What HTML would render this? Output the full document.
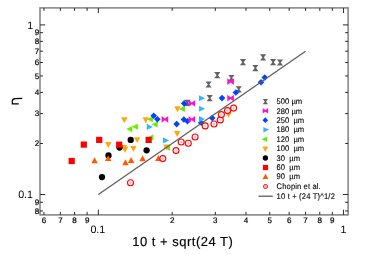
<!DOCTYPE html><html><head><meta charset="utf-8"><style>html,body{margin:0;padding:0;background:#fff;width:374px;height:255px;overflow:hidden}</style></head><body><svg width="374" height="255" viewBox="0 0 374 255" style="position:absolute;left:0;top:0;will-change:transform;text-rendering:geometricPrecision;font-family:'Liberation Sans',sans-serif">
<rect x="0" y="0" width="374" height="255" fill="#fff"/>
<polygon points="214.20,72.10 220.40,72.10 218.00,75.20 220.40,78.30 214.20,78.30 216.60,75.20" fill="#626262"/>
<polygon points="205.50,81.40 211.70,81.40 209.30,84.50 211.70,87.60 205.50,87.60 207.90,84.50" fill="#626262"/>
<polygon points="228.30,74.90 234.50,74.90 232.10,78.00 234.50,81.10 228.30,81.10 230.70,78.00" fill="#626262"/>
<polygon points="206.60,95.10 212.80,95.10 210.40,98.20 212.80,101.30 206.60,101.30 209.00,98.20" fill="#626262"/>
<polygon points="235.60,86.20 241.80,86.20 239.40,89.30 241.80,92.40 235.60,92.40 238.00,89.30" fill="#626262"/>
<polygon points="184.30,99.70 190.50,99.70 188.10,102.80 190.50,105.90 184.30,105.90 186.70,102.80" fill="#626262"/>
<polygon points="239.90,59.10 246.10,59.10 243.70,62.20 246.10,65.30 239.90,65.30 242.30,62.20" fill="#626262"/>
<polygon points="252.30,65.00 258.50,65.00 256.10,68.10 258.50,71.20 252.30,71.20 254.70,68.10" fill="#626262"/>
<polygon points="260.00,54.30 266.20,54.30 263.80,57.40 266.20,60.50 260.00,60.50 262.40,57.40" fill="#626262"/>
<polygon points="270.00,59.10 276.20,59.10 273.80,62.20 276.20,65.30 270.00,65.30 272.40,62.20" fill="#626262"/>
<polygon points="276.90,59.40 283.10,59.40 280.70,62.50 283.10,65.60 276.90,65.60 279.30,62.50" fill="#626262"/>
<polygon points="132.35,126.05 132.35,132.15 126.25,129.10" fill="#66ee00"/>
<polygon points="137.85,123.75 137.85,129.85 131.75,126.80" fill="#66ee00"/>
<polygon points="152.95,116.25 152.95,122.35 146.85,119.30" fill="#66ee00"/>
<polygon points="157.75,121.35 157.75,127.45 151.65,124.40" fill="#66ee00"/>
<polygon points="184.95,105.85 184.95,111.95 178.85,108.90" fill="#66ee00"/>
<polygon points="153.35,134.45 153.35,140.55 147.25,137.50" fill="#66ee00"/>
<polygon points="170.05,144.65 170.05,150.75 163.95,147.70" fill="#66ee00"/>
<polygon points="150.40,115.80 153.70,112.50 157.00,115.80 153.70,119.10" fill="#0044ff"/>
<polygon points="154.10,119.30 157.40,116.00 160.70,119.30 157.40,122.60" fill="#0044ff"/>
<polygon points="173.35,124.10 176.65,120.80 179.95,124.10 176.65,127.40" fill="#0044ff"/>
<polygon points="180.90,103.40 184.20,100.10 187.50,103.40 184.20,106.70" fill="#0044ff"/>
<polygon points="180.60,119.50 183.90,116.20 187.20,119.50 183.90,122.80" fill="#0044ff"/>
<polygon points="184.20,121.20 187.50,117.90 190.80,121.20 187.50,124.50" fill="#0044ff"/>
<polygon points="208.90,118.00 212.20,114.70 215.50,118.00 212.20,121.30" fill="#0044ff"/>
<polygon points="218.70,98.10 222.00,94.80 225.30,98.10 222.00,101.40" fill="#0044ff"/>
<polygon points="232.60,92.50 235.90,89.20 239.20,92.50 235.90,95.80" fill="#0044ff"/>
<polygon points="261.50,77.50 264.80,74.20 268.10,77.50 264.80,80.80" fill="#0044ff"/>
<polygon points="257.70,82.20 261.00,78.90 264.30,82.20 261.00,85.50" fill="#0044ff"/>
<polygon points="197.90,122.80 201.20,119.50 204.50,122.80 201.20,126.10" fill="#0044ff"/>
<polygon points="161.60,116.03 161.60,122.77 164.90,120.20 168.20,122.77 168.20,116.03 164.90,118.60" fill="#ff10cc"/>
<polygon points="188.55,100.03 188.55,106.77 191.85,104.20 195.15,106.77 195.15,100.03 191.85,102.60" fill="#ff10cc"/>
<polygon points="188.55,116.03 188.55,122.77 191.85,120.20 195.15,122.77 195.15,116.03 191.85,118.60" fill="#ff10cc"/>
<polygon points="227.30,78.23 227.30,84.97 230.60,82.40 233.90,84.97 233.90,78.23 230.60,80.80" fill="#ff10cc"/>
<polygon points="227.30,94.73 227.30,101.47 230.60,98.90 233.90,101.47 233.90,94.73 230.60,97.30" fill="#ff10cc"/>
<polygon points="146.75,123.85 146.75,129.95 152.85,126.90" fill="#38b4ff"/>
<polygon points="162.95,137.35 162.95,143.45 169.05,140.40" fill="#38b4ff"/>
<polygon points="198.95,95.25 198.95,101.35 205.05,98.30" fill="#38b4ff"/>
<polygon points="199.05,105.75 199.05,111.85 205.15,108.80" fill="#38b4ff"/>
<polygon points="198.95,116.05 198.95,122.15 205.05,119.10" fill="#38b4ff"/>
<polygon points="121.05,117.34 127.55,117.34 124.30,123.26" fill="#ffa60c"/>
<polygon points="142.45,117.24 148.95,117.24 145.70,123.16" fill="#ffa60c"/>
<polygon points="174.25,106.34 180.75,106.34 177.50,112.26" fill="#ffa60c"/>
<polygon points="173.95,131.04 180.45,131.04 177.20,136.96" fill="#ffa60c"/>
<polygon points="133.85,137.14 140.35,137.14 137.10,143.06" fill="#ffa60c"/>
<polygon points="105.05,142.04 111.55,142.04 108.30,147.96" fill="#ffa60c"/>
<polygon points="120.65,144.94 127.15,144.94 123.90,150.86" fill="#ffa60c"/>
<polygon points="121.75,146.94 128.25,146.94 125.00,152.86" fill="#ffa60c"/>
<polygon points="130.15,145.94 136.65,145.94 133.40,151.86" fill="#ffa60c"/>
<polygon points="163.25,144.54 169.75,144.54 166.50,150.46" fill="#ffa60c"/>
<polygon points="225.45,111.84 231.95,111.84 228.70,117.76" fill="#ffa60c"/>
<circle cx="130.70" cy="139.90" r="3.15" fill="#000"/>
<circle cx="119.50" cy="147.50" r="3.15" fill="#000"/>
<circle cx="108.50" cy="155.40" r="3.15" fill="#000"/>
<circle cx="146.60" cy="150.30" r="3.15" fill="#000"/>
<circle cx="102.00" cy="177.10" r="3.15" fill="#000"/>
<rect x="96.10" y="136.80" width="6.20" height="6.20" fill="#ff0000"/>
<rect x="80.70" y="141.50" width="6.20" height="6.20" fill="#ff0000"/>
<rect x="116.10" y="141.60" width="6.20" height="6.20" fill="#ff0000"/>
<rect x="145.55" y="136.80" width="6.20" height="6.20" fill="#ff0000"/>
<rect x="68.60" y="157.90" width="6.20" height="6.20" fill="#ff0000"/>
<polygon points="91.35,163.16 97.85,163.16 94.60,157.24" fill="#ff5a00"/>
<polygon points="104.95,161.06 111.45,161.06 108.20,155.14" fill="#ff5a00"/>
<polygon points="122.25,165.26 128.75,165.26 125.50,159.34" fill="#ff5a00"/>
<polygon points="127.85,162.96 134.35,162.96 131.10,157.04" fill="#ff5a00"/>
<polygon points="139.35,161.16 145.85,161.16 142.60,155.24" fill="#ff5a00"/>
<polygon points="155.15,160.96 161.65,160.96 158.40,155.04" fill="#ff5a00"/>
<circle cx="130.50" cy="182.70" r="3.00" fill="#fff" stroke="#ff0000" stroke-width="1.10"/>
<circle cx="130.50" cy="182.70" r="0.7" fill="none" stroke="#ff4a4a" stroke-width="0.45"/>
<circle cx="162.80" cy="158.60" r="3.00" fill="#fff" stroke="#ff0000" stroke-width="1.10"/>
<circle cx="162.80" cy="158.60" r="0.7" fill="none" stroke="#ff4a4a" stroke-width="0.45"/>
<circle cx="176.00" cy="150.60" r="3.00" fill="#fff" stroke="#ff0000" stroke-width="1.10"/>
<circle cx="176.00" cy="150.60" r="0.7" fill="none" stroke="#ff4a4a" stroke-width="0.45"/>
<circle cx="181.20" cy="142.00" r="3.00" fill="#fff" stroke="#ff0000" stroke-width="1.10"/>
<circle cx="181.20" cy="142.00" r="0.7" fill="none" stroke="#ff4a4a" stroke-width="0.45"/>
<circle cx="188.30" cy="143.20" r="3.00" fill="#fff" stroke="#ff0000" stroke-width="1.10"/>
<circle cx="188.30" cy="143.20" r="0.7" fill="none" stroke="#ff4a4a" stroke-width="0.45"/>
<circle cx="195.10" cy="137.00" r="3.00" fill="#fff" stroke="#ff0000" stroke-width="1.10"/>
<circle cx="195.10" cy="137.00" r="0.7" fill="none" stroke="#ff4a4a" stroke-width="0.45"/>
<circle cx="205.20" cy="125.90" r="3.00" fill="#fff" stroke="#ff0000" stroke-width="1.10"/>
<circle cx="205.20" cy="125.90" r="0.7" fill="none" stroke="#ff4a4a" stroke-width="0.45"/>
<circle cx="214.00" cy="124.00" r="3.00" fill="#fff" stroke="#ff0000" stroke-width="1.10"/>
<circle cx="214.00" cy="124.00" r="0.7" fill="none" stroke="#ff4a4a" stroke-width="0.45"/>
<circle cx="220.30" cy="119.90" r="3.00" fill="#fff" stroke="#ff0000" stroke-width="1.10"/>
<circle cx="220.30" cy="119.90" r="0.7" fill="none" stroke="#ff4a4a" stroke-width="0.45"/>
<circle cx="221.40" cy="114.60" r="3.00" fill="#fff" stroke="#ff0000" stroke-width="1.10"/>
<circle cx="221.40" cy="114.60" r="0.7" fill="none" stroke="#ff4a4a" stroke-width="0.45"/>
<circle cx="227.50" cy="110.60" r="3.00" fill="#fff" stroke="#ff0000" stroke-width="1.10"/>
<circle cx="227.50" cy="110.60" r="0.7" fill="none" stroke="#ff4a4a" stroke-width="0.45"/>
<circle cx="233.60" cy="108.10" r="3.00" fill="#fff" stroke="#ff0000" stroke-width="1.10"/>
<circle cx="233.60" cy="108.10" r="0.7" fill="none" stroke="#ff4a4a" stroke-width="0.45"/>
<line x1="98.35" y1="194.50" x2="305.57" y2="51.17" stroke="#5e5e5e" stroke-width="1.3"/>
<rect x="40.00" y="7.90" width="308.10" height="207.00" fill="none" stroke="#7c7c7c" stroke-width="1.45"/>
<line x1="43.95" y1="214.90" x2="43.95" y2="211.90" stroke="#2a2a2a" stroke-width="1.00"/>
<line x1="43.95" y1="7.90" x2="43.95" y2="10.90" stroke="#2a2a2a" stroke-width="1.00"/>
<line x1="60.37" y1="214.90" x2="60.37" y2="211.90" stroke="#2a2a2a" stroke-width="1.00"/>
<line x1="60.37" y1="7.90" x2="60.37" y2="10.90" stroke="#2a2a2a" stroke-width="1.00"/>
<line x1="74.59" y1="214.90" x2="74.59" y2="211.90" stroke="#2a2a2a" stroke-width="1.00"/>
<line x1="74.59" y1="7.90" x2="74.59" y2="10.90" stroke="#2a2a2a" stroke-width="1.00"/>
<line x1="87.13" y1="214.90" x2="87.13" y2="211.90" stroke="#2a2a2a" stroke-width="1.00"/>
<line x1="87.13" y1="7.90" x2="87.13" y2="10.90" stroke="#2a2a2a" stroke-width="1.00"/>
<line x1="172.16" y1="214.90" x2="172.16" y2="211.90" stroke="#2a2a2a" stroke-width="1.00"/>
<line x1="172.16" y1="7.90" x2="172.16" y2="10.90" stroke="#2a2a2a" stroke-width="1.00"/>
<line x1="215.34" y1="214.90" x2="215.34" y2="211.90" stroke="#2a2a2a" stroke-width="1.00"/>
<line x1="215.34" y1="7.90" x2="215.34" y2="10.90" stroke="#2a2a2a" stroke-width="1.00"/>
<line x1="245.98" y1="214.90" x2="245.98" y2="211.90" stroke="#2a2a2a" stroke-width="1.00"/>
<line x1="245.98" y1="7.90" x2="245.98" y2="10.90" stroke="#2a2a2a" stroke-width="1.00"/>
<line x1="269.74" y1="214.90" x2="269.74" y2="211.90" stroke="#2a2a2a" stroke-width="1.00"/>
<line x1="269.74" y1="7.90" x2="269.74" y2="10.90" stroke="#2a2a2a" stroke-width="1.00"/>
<line x1="289.15" y1="214.90" x2="289.15" y2="211.90" stroke="#2a2a2a" stroke-width="1.00"/>
<line x1="289.15" y1="7.90" x2="289.15" y2="10.90" stroke="#2a2a2a" stroke-width="1.00"/>
<line x1="305.57" y1="214.90" x2="305.57" y2="211.90" stroke="#2a2a2a" stroke-width="1.00"/>
<line x1="305.57" y1="7.90" x2="305.57" y2="10.90" stroke="#2a2a2a" stroke-width="1.00"/>
<line x1="319.79" y1="214.90" x2="319.79" y2="211.90" stroke="#2a2a2a" stroke-width="1.00"/>
<line x1="319.79" y1="7.90" x2="319.79" y2="10.90" stroke="#2a2a2a" stroke-width="1.00"/>
<line x1="332.33" y1="214.90" x2="332.33" y2="211.90" stroke="#2a2a2a" stroke-width="1.00"/>
<line x1="332.33" y1="7.90" x2="332.33" y2="10.90" stroke="#2a2a2a" stroke-width="1.00"/>
<line x1="98.35" y1="214.90" x2="98.35" y2="209.70" stroke="#2a2a2a" stroke-width="1.00"/>
<line x1="98.35" y1="7.90" x2="98.35" y2="13.10" stroke="#2a2a2a" stroke-width="1.00"/>
<line x1="343.55" y1="214.90" x2="343.55" y2="209.70" stroke="#2a2a2a" stroke-width="1.00"/>
<line x1="343.55" y1="7.90" x2="343.55" y2="13.10" stroke="#2a2a2a" stroke-width="1.00"/>
<line x1="40.00" y1="210.94" x2="43.00" y2="210.94" stroke="#2a2a2a" stroke-width="1.00"/>
<line x1="348.10" y1="210.94" x2="345.10" y2="210.94" stroke="#2a2a2a" stroke-width="1.00"/>
<line x1="40.00" y1="202.26" x2="43.00" y2="202.26" stroke="#2a2a2a" stroke-width="1.00"/>
<line x1="348.10" y1="202.26" x2="345.10" y2="202.26" stroke="#2a2a2a" stroke-width="1.00"/>
<line x1="40.00" y1="143.45" x2="43.00" y2="143.45" stroke="#2a2a2a" stroke-width="1.00"/>
<line x1="348.10" y1="143.45" x2="345.10" y2="143.45" stroke="#2a2a2a" stroke-width="1.00"/>
<line x1="40.00" y1="113.58" x2="43.00" y2="113.58" stroke="#2a2a2a" stroke-width="1.00"/>
<line x1="348.10" y1="113.58" x2="345.10" y2="113.58" stroke="#2a2a2a" stroke-width="1.00"/>
<line x1="40.00" y1="92.39" x2="43.00" y2="92.39" stroke="#2a2a2a" stroke-width="1.00"/>
<line x1="348.10" y1="92.39" x2="345.10" y2="92.39" stroke="#2a2a2a" stroke-width="1.00"/>
<line x1="40.00" y1="75.95" x2="43.00" y2="75.95" stroke="#2a2a2a" stroke-width="1.00"/>
<line x1="348.10" y1="75.95" x2="345.10" y2="75.95" stroke="#2a2a2a" stroke-width="1.00"/>
<line x1="40.00" y1="62.53" x2="43.00" y2="62.53" stroke="#2a2a2a" stroke-width="1.00"/>
<line x1="348.10" y1="62.53" x2="345.10" y2="62.53" stroke="#2a2a2a" stroke-width="1.00"/>
<line x1="40.00" y1="51.17" x2="43.00" y2="51.17" stroke="#2a2a2a" stroke-width="1.00"/>
<line x1="348.10" y1="51.17" x2="345.10" y2="51.17" stroke="#2a2a2a" stroke-width="1.00"/>
<line x1="40.00" y1="41.34" x2="43.00" y2="41.34" stroke="#2a2a2a" stroke-width="1.00"/>
<line x1="348.10" y1="41.34" x2="345.10" y2="41.34" stroke="#2a2a2a" stroke-width="1.00"/>
<line x1="40.00" y1="32.66" x2="43.00" y2="32.66" stroke="#2a2a2a" stroke-width="1.00"/>
<line x1="348.10" y1="32.66" x2="345.10" y2="32.66" stroke="#2a2a2a" stroke-width="1.00"/>
<line x1="40.00" y1="194.50" x2="45.20" y2="194.50" stroke="#2a2a2a" stroke-width="1.00"/>
<line x1="348.10" y1="194.50" x2="342.90" y2="194.50" stroke="#2a2a2a" stroke-width="1.00"/>
<line x1="40.00" y1="24.90" x2="45.20" y2="24.90" stroke="#2a2a2a" stroke-width="1.00"/>
<line x1="348.10" y1="24.90" x2="342.90" y2="24.90" stroke="#2a2a2a" stroke-width="1.00"/>
<text x="43.95" y="222.70" font-size="8.00" text-anchor="middle" fill="#000" stroke="#000" stroke-width="0.2">6</text>
<text x="60.37" y="222.70" font-size="8.00" text-anchor="middle" fill="#000" stroke="#000" stroke-width="0.2">7</text>
<text x="74.59" y="222.70" font-size="8.00" text-anchor="middle" fill="#000" stroke="#000" stroke-width="0.2">8</text>
<text x="87.13" y="222.70" font-size="8.00" text-anchor="middle" fill="#000" stroke="#000" stroke-width="0.2">9</text>
<text x="172.16" y="222.70" font-size="8.00" text-anchor="middle" fill="#000" stroke="#000" stroke-width="0.2">2</text>
<text x="215.34" y="222.70" font-size="8.00" text-anchor="middle" fill="#000" stroke="#000" stroke-width="0.2">3</text>
<text x="245.98" y="222.70" font-size="8.00" text-anchor="middle" fill="#000" stroke="#000" stroke-width="0.2">4</text>
<text x="269.74" y="222.70" font-size="8.00" text-anchor="middle" fill="#000" stroke="#000" stroke-width="0.2">5</text>
<text x="289.15" y="222.70" font-size="8.00" text-anchor="middle" fill="#000" stroke="#000" stroke-width="0.2">6</text>
<text x="305.57" y="222.70" font-size="8.00" text-anchor="middle" fill="#000" stroke="#000" stroke-width="0.2">7</text>
<text x="319.79" y="222.70" font-size="8.00" text-anchor="middle" fill="#000" stroke="#000" stroke-width="0.2">8</text>
<text x="332.33" y="222.70" font-size="8.00" text-anchor="middle" fill="#000" stroke="#000" stroke-width="0.2">9</text>
<text x="97.85" y="232.60" font-size="10.70" text-anchor="middle" fill="#000" >0.1</text>
<text x="343.40" y="232.60" font-size="10.70" text-anchor="middle" fill="#000" >1</text>
<text x="39.30" y="213.64" font-size="8.00" text-anchor="end" fill="#000" stroke="#000" stroke-width="0.2">8</text>
<text x="39.30" y="204.96" font-size="8.00" text-anchor="end" fill="#000" stroke="#000" stroke-width="0.2">9</text>
<text x="39.30" y="146.15" font-size="8.00" text-anchor="end" fill="#000" stroke="#000" stroke-width="0.2">2</text>
<text x="39.30" y="116.28" font-size="8.00" text-anchor="end" fill="#000" stroke="#000" stroke-width="0.2">3</text>
<text x="39.30" y="95.09" font-size="8.00" text-anchor="end" fill="#000" stroke="#000" stroke-width="0.2">4</text>
<text x="39.30" y="78.65" font-size="8.00" text-anchor="end" fill="#000" stroke="#000" stroke-width="0.2">5</text>
<text x="39.30" y="65.23" font-size="8.00" text-anchor="end" fill="#000" stroke="#000" stroke-width="0.2">6</text>
<text x="39.30" y="53.87" font-size="8.00" text-anchor="end" fill="#000" stroke="#000" stroke-width="0.2">7</text>
<text x="39.30" y="44.04" font-size="8.00" text-anchor="end" fill="#000" stroke="#000" stroke-width="0.2">8</text>
<text x="39.30" y="35.36" font-size="8.00" text-anchor="end" fill="#000" stroke="#000" stroke-width="0.2">9</text>
<text x="33.30" y="28.60" font-size="10.70" text-anchor="end" fill="#000" >1</text>
<text x="33.00" y="198.10" font-size="10.70" text-anchor="end" fill="#000" >0.1</text>
<text x="132.30" y="245.80" font-size="13.00" text-anchor="start" fill="#000" textLength="100.5" lengthAdjust="spacing" stroke="#000" stroke-width="0.15">10 t + sqrt(24 T)</text>
<path d="M22.2 98.3 L15 98.7 C13 98.9 12.2 100 12.2 101.5 C12.2 102.8 12.6 103.5 13.2 103.9 M11.7 103.9 L18.8 103.8" stroke="#000" stroke-width="1.2" fill="none"/>
<polygon points="262.80,99.10 268.00,99.10 266.10,101.70 268.00,104.30 262.80,104.30 264.70,101.70" fill="#626262"/>
<polygon points="262.70,108.10 262.70,113.60 265.40,111.65 268.10,113.60 268.10,108.10 265.40,110.05" fill="#ff10cc"/>
<polygon points="262.45,120.20 265.30,117.35 268.15,120.20 265.30,123.05" fill="#0044ff"/>
<polygon points="263.40,127.00 263.40,132.40 269.00,129.70" fill="#38b4ff"/>
<polygon points="267.20,136.50 267.20,141.90 261.60,139.20" fill="#66ee00"/>
<polygon points="262.40,146.40 268.20,146.40 265.30,152.00" fill="#ffa60c"/>
<circle cx="265.40" cy="158.00" r="2.65" fill="#000"/>
<rect x="262.90" y="164.90" width="5.20" height="5.20" fill="#ff0000"/>
<polygon points="262.70,179.00 268.30,179.00 265.50,173.40" fill="#ff5a00"/>
<circle cx="265.50" cy="186.50" r="2.00" fill="#fff" stroke="#ff0000" stroke-width="1.00"/>
<circle cx="265.50" cy="186.50" r="0.7" fill="none" stroke="#ff4a4a" stroke-width="0.45"/>
<line x1="258.4" y1="196.2" x2="272.8" y2="196.2" stroke="#5e5e5e" stroke-width="1.3"/>
<text transform="translate(276.60,104.05) scale(1,1.07)" font-size="7.6" fill="#000" stroke="#000" stroke-width="0.1" letter-spacing="0.00" xml:space="preserve">500 &#181;m</text>
<text transform="translate(276.60,113.50) scale(1,1.07)" font-size="7.6" fill="#000" stroke="#000" stroke-width="0.1" letter-spacing="0.00" xml:space="preserve">280 &#181;m</text>
<text transform="translate(276.60,122.95) scale(1,1.07)" font-size="7.6" fill="#000" stroke="#000" stroke-width="0.1" letter-spacing="0.00" xml:space="preserve">250  &#181;m</text>
<text transform="translate(276.60,132.45) scale(1,1.07)" font-size="7.6" fill="#000" stroke="#000" stroke-width="0.1" letter-spacing="0.00" xml:space="preserve">180  &#181;m</text>
<text transform="translate(276.60,141.75) scale(1,1.07)" font-size="7.6" fill="#000" stroke="#000" stroke-width="0.1" letter-spacing="0.00" xml:space="preserve">120  &#181;m</text>
<text transform="translate(276.60,151.05) scale(1,1.07)" font-size="7.6" fill="#000" stroke="#000" stroke-width="0.1" letter-spacing="0.00" xml:space="preserve">100  &#181;m</text>
<text transform="translate(276.60,160.55) scale(1,1.07)" font-size="7.6" fill="#000" stroke="#000" stroke-width="0.1" letter-spacing="0.00" xml:space="preserve">30  &#181;m</text>
<text transform="translate(276.60,169.85) scale(1,1.07)" font-size="7.6" fill="#000" stroke="#000" stroke-width="0.1" letter-spacing="0.00" xml:space="preserve">60  &#181;m</text>
<text transform="translate(276.60,179.25) scale(1,1.07)" font-size="7.6" fill="#000" stroke="#000" stroke-width="0.1" letter-spacing="0.00" xml:space="preserve">90  &#181;m</text>
<text transform="translate(276.60,189.25) scale(1,1.07)" font-size="7.6" fill="#000" stroke="#000" stroke-width="0.1" letter-spacing="0.12" xml:space="preserve">Chopin et al.</text>
<text transform="translate(276.60,198.85) scale(1,1.07)" font-size="7.6" fill="#000" stroke="#000" stroke-width="0.1" letter-spacing="0.17" xml:space="preserve">10 t + (24 T)^1/2</text>
</svg></body></html>
